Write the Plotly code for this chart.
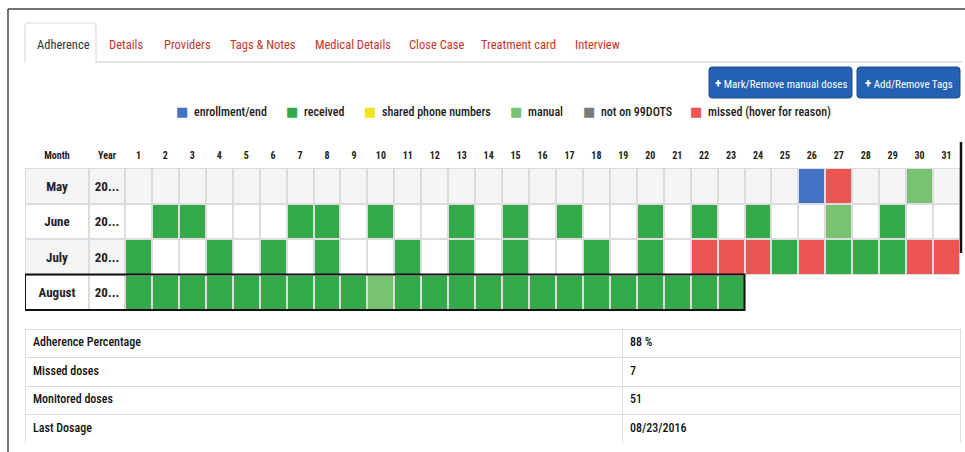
import plotly.graph_objects as go

W, H = 965, 452
FONT = "Roboto Condensed, Roboto, sans-serif"

# ---------------- data ----------------
months = ["May", "June", "July", "August"]
year_labels = ["20...", "20...", "20...", "20..."]
days_displayed = [31, 31, 31, 23]
day_labels = [str(d) for d in range(1, 32)]

enrollment_days = {"May": [26]}
received_days = {
    "June": [2, 3, 7, 8, 10, 13, 15, 17, 20, 22, 24, 29],
    "July": [1, 4, 6, 8, 11, 13, 15, 18, 20, 25, 27, 28, 29],
    "August": [1, 2, 3, 4, 5, 6, 7, 8, 9, 11, 12, 13, 14, 15, 16, 17, 18, 19, 20, 21, 22, 23],
}
shared_phone_days = {}
manual_days = {"May": [30], "June": [27], "August": [10]}
not_on_99dots_days = {}
missed_days = {"May": [27], "July": [22, 23, 24, 26, 30, 31]}
grey_empty_rows = ["May"]
grey_label_rows = ["May", "July"]
highlight_month = "August"

legend_labels = ["enrollment/end", "received", "shared phone numbers", "manual",
                 "not on 99DOTS", "missed (hover for reason)"]
tab_labels = ["Adherence", "Details", "Providers", "Tags & Notes", "Medical Details",
              "Close Case", "Treatment card", "Interview"]
button_labels = ["Mark/Remove manual doses", "Add/Remove Tags"]
summary_labels = ["Adherence Percentage", "Missed doses", "Monitored doses", "Last Dosage"]
summary_values = ["88 %", "7", "51", "08/23/2016"]

# ---------------- styles ----------------
C_WHITE, C_GREY = "#ffffff", "#f5f5f5"
C_ENROLL, C_RECEIVED, C_SHARED = "#4472c4", "#34a94a", "#f2e41a"
C_MANUAL, C_NOT99, C_MISSED = "#79c272", "#7a7a7a", "#ef5455"
status_colors = [C_WHITE, C_GREY, C_ENROLL, C_RECEIVED, C_SHARED, C_MANUAL, C_NOT99, C_MISSED]
status_sets = [(2, enrollment_days), (3, received_days), (4, shared_phone_days),
               (5, manual_days), (6, not_on_99dots_days), (7, missed_days)]
legend_colors = [C_ENROLL, C_RECEIVED, C_SHARED, C_MANUAL, C_NOT99, C_MISSED]

def fx(p):
    return p / W

def fy(p):
    return 1 - p / H

# grid geometry (pixels of the screenshot)
GRID_L, GRID_R, GRID_T, GRID_B = 25, 960, 168, 311
DAY_PX = (GRID_R - 125) / 31
MONTH_W = 64 / DAY_PX
YEAR_W = 36 / DAY_PX
edges = [0.5 - YEAR_W - MONTH_W, 0.5 - YEAR_W] + [d + 0.5 for d in range(0, 32)]
centers = [(edges[i] + edges[i + 1]) / 2 for i in range(len(edges) - 1)]

# build matrices
z, zbg, txt = [], [], []
for r, m in enumerate(months):
    lab = 1 if m in grey_label_rows else 0
    row = [lab, lab]
    trow = [m, year_labels[r]]
    for d in range(1, 32):
        trow.append("")
        if d > days_displayed[r]:
            row.append(None)
            continue
        code = 1 if m in grey_empty_rows else 0
        for c, s in status_sets:
            if d in s.get(m, []):
                code = c
        row.append(code)
    z.append(row)
    zbg.append([None if v is None else 1 for v in row])
    txt.append(trow)

n = len(status_colors)
cscale = []
for i, c in enumerate(status_colors):
    cscale.append([i / n, c])
    cscale.append([(i + 1) / n, c])

fig = go.Figure()
fig.add_trace(go.Heatmap(
    x=edges, y=months, z=zbg, colorscale=[[0, "#dcdcdc"], [1, "#dcdcdc"]],
    showscale=False, hoverinfo="skip"))
fig.add_trace(go.Heatmap(
    x=edges, y=months, z=z, text=txt, texttemplate="%{text}",
    textfont=dict(family=FONT, size=13, color="#222", weight="bold"),
    colorscale=cscale, zmin=-0.5, zmax=n - 0.5, xgap=2, ygap=2,
    showscale=False, hoverinfo="skip"))

shapes = []
# highlighted row border
hi = months.index(highlight_month)
shapes.append(dict(type="rect", xref="x", yref="y", x0=edges[0], x1=days_displayed[hi] + 0.5,
                   y0=hi - 0.5, y1=hi + 0.5, line=dict(color="#111", width=2)))

# page frame
shapes.append(dict(type="line", xref="paper", yref="paper", x0=fx(8), x1=1, y0=fy(9), y1=fy(9),
                   line=dict(color="#444", width=1.5)))
shapes.append(dict(type="line", xref="paper", yref="paper", x0=fx(8), x1=fx(8), y0=fy(9), y1=0,
                   line=dict(color="#444", width=1.5)))
# scroll edge
shapes.append(dict(type="line", xref="paper", yref="paper", x0=fx(961), x1=fx(961), y0=fy(142), y1=fy(253),
                   line=dict(color="#111", width=2.5)))
# tab bar
shapes.append(dict(type="line", xref="paper", yref="paper", x0=fx(96), x1=fx(962), y0=fy(62), y1=fy(62),
                   line=dict(color="#dddddd", width=1.5)))
tab_path = "M {a},{b} L {a},{c} Q {a},{d} {e},{d} L {f},{d} Q {g},{d} {g},{c} L {g},{b}".format(
    a=fx(25), b=fy(63), c=fy(26), d=fy(23), e=fx(28), f=fx(93), g=fx(96))
shapes.append(dict(type="path", xref="paper", yref="paper", path=tab_path,
                   line=dict(color="#dddddd", width=1.2)))

# buttons
button_boxes = [(709, 852), (857, 960)]
for (x0, x1) in button_boxes:
    y0, y1, r = 67, 98, 3
    p = ("M {} {} L {} {} Q {} {} {} {} L {} {} Q {} {} {} {} L {} {} Q {} {} {} {} L {} {} Q {} {} {} {} Z").format(
        fx(x0 + r), fy(y0), fx(x1 - r), fy(y0), fx(x1), fy(y0), fx(x1), fy(y0 + r),
        fx(x1), fy(y1 - r), fx(x1), fy(y1), fx(x1 - r), fy(y1),
        fx(x0 + r), fy(y1), fx(x0), fy(y1), fx(x0), fy(y1 - r),
        fx(x0), fy(y0 + r), fx(x0), fy(y0), fx(x0 + r), fy(y0))
    shapes.append(dict(type="path", xref="paper", yref="paper", path=p,
                       fillcolor="#2461b2", line=dict(color="#1a4c8e", width=1)))

annotations = []
# tabs
tab_x = [35, 107, 162, 228, 313, 407, 479, 573]
for i, t in enumerate(tab_labels):
    annotations.append(dict(xref="paper", yref="paper", x=fx(tab_x[i]), y=fy(44), text=t,
                            showarrow=False, xanchor="left", yanchor="middle",
                            font=dict(family=FONT, size=12.5, color="#333" if i == 0 else "#c9342a")))
# buttons text
for (x0, x1), t in zip(button_boxes, button_labels):
    annotations.append(dict(xref="paper", yref="paper", x=fx((x0 + x1) / 2), y=fy(83),
                            text="<b><span style='font-size:13px'>+</span></b> " + t, showarrow=False,
                            xanchor="center", yanchor="middle",
                            font=dict(family=FONT, size=11, color="#ffffff")))
# legend
legend_sq = [182, 292, 370, 516, 589, 696]
for i, t in enumerate(legend_labels):
    annotations.append(dict(xref="paper", yref="paper", x=fx(legend_sq[i]), y=fy(112), text="■",
                            showarrow=False, xanchor="center", yanchor="middle",
                            font=dict(family="DejaVu Sans", size=13, color=legend_colors[i])))
    annotations.append(dict(xref="paper", yref="paper", x=fx(legend_sq[i] + 10), y=fy(112), text=t,
                            showarrow=False, xanchor="left", yanchor="middle",
                            font=dict(family=FONT, size=12, color="#1a1a1a", weight=500)))

# summary table
fig.add_trace(go.Table(
    domain=dict(x=[fx(25), fx(960)], y=[fy(443), fy(329)]),
    columnwidth=[597, 338],
    header=dict(values=[summary_labels[0], summary_values[0]], height=28.5, align="left",
                fill_color="white", line=dict(color="#dddddd", width=1),
                font=dict(family=FONT, size=12, color="#111", weight=500)),
    cells=dict(values=[summary_labels[1:], summary_values[1:]], height=28.5, align="left",
               fill_color="white", line=dict(color="#dddddd", width=1),
               font=dict(family=FONT, size=12, color="#111", weight=500)),
))

fig.update_layout(
    template="none", width=W, height=H, margin=dict(l=0, r=0, t=0, b=0),
    paper_bgcolor="white", plot_bgcolor="white", showlegend=False,
    shapes=shapes, annotations=annotations,
    xaxis=dict(domain=[fx(GRID_L), fx(GRID_R)], range=[edges[0], edges[-1]], side="top",
               tickmode="array", tickvals=centers, ticktext=["Month", "Year"] + day_labels,
               tickfont=dict(family=FONT, size=10, color="#222", weight="bold"),
               ticks="", showgrid=False, zeroline=False, showline=False, automargin=False,
               ticklabelstandoff=6, fixedrange=True),
    yaxis=dict(domain=[fy(GRID_B), fy(GRID_T)], categoryorder="array", categoryarray=months,
               autorange="reversed", showticklabels=False, showgrid=False, zeroline=False,
               showline=False, ticks="", automargin=False, fixedrange=True),
)

fig.write_html("out.html", config={"displayModeBar": False},
               post_script="document.body.style.margin='0px';")
